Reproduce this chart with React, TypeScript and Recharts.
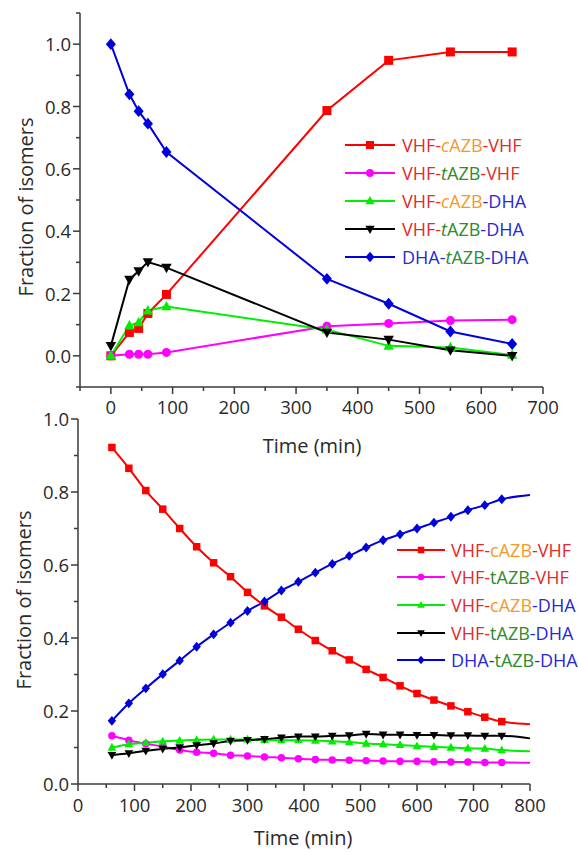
import React from 'react';
import { LineChart, Line, XAxis, YAxis, Legend, Label } from 'recharts';

// ---------- Top panel data ----------
const topTime = [0, 30, 45, 60, 90, 350, 450, 550, 650];
const topCVC = [0, 0.075, 0.088, 0.136, 0.197, 0.787, 0.948, 0.975, 0.975];
const topTVT = [0, 0.005, 0.005, 0.005, 0.011, 0.095, 0.104, 0.113, 0.116];
const topCVD = [0, 0.097, 0.107, 0.145, 0.158, 0.084, 0.032, 0.027, 0.003];
const topTVD = [0.032, 0.245, 0.272, 0.301, 0.283, 0.075, 0.052, 0.018, 0.0];
const topDTD = [1.0, 0.839, 0.785, 0.745, 0.654, 0.247, 0.167, 0.078, 0.038];
const topXTicks = [-50, 0, 50, 100, 150, 200, 250, 300, 350, 400, 450, 500, 550, 600, 650, 700];
const topYTicks = [-0.1, 0, 0.1, 0.2, 0.3, 0.4, 0.5, 0.6, 0.7, 0.8, 0.9, 1.0, 1.1];

// ---------- Bottom panel data ----------
const botTime = [60, 90, 120, 150, 180, 210, 240, 270, 300, 330, 360, 390, 420, 450, 480, 510, 540, 570, 600, 630, 660, 690, 720, 750, 800];
const botCVC = [0.922, 0.865, 0.804, 0.753, 0.7, 0.65, 0.606, 0.568, 0.525, 0.488, 0.457, 0.424, 0.393, 0.365, 0.34, 0.314, 0.292, 0.269, 0.248, 0.23, 0.214, 0.198, 0.183, 0.171, 0.164];
const botTVT = [0.132, 0.12, 0.11, 0.103, 0.093, 0.087, 0.084, 0.079, 0.077, 0.074, 0.072, 0.069, 0.067, 0.066, 0.065, 0.064, 0.063, 0.062, 0.062, 0.061, 0.06, 0.06, 0.059, 0.059, 0.058];
const botCVD = [0.1, 0.109, 0.113, 0.117, 0.119, 0.121, 0.122, 0.122, 0.122, 0.121, 0.12, 0.12, 0.119, 0.117, 0.115, 0.111, 0.109, 0.107, 0.104, 0.102, 0.1, 0.098, 0.097, 0.093, 0.09];
const botTVD = [0.079, 0.084, 0.091, 0.096, 0.1, 0.106, 0.111, 0.118, 0.12, 0.123, 0.127, 0.13, 0.13, 0.132, 0.133, 0.137, 0.135, 0.135, 0.134, 0.134, 0.133, 0.133, 0.132, 0.132, 0.125];
const botDTD = [0.173, 0.221, 0.262, 0.301, 0.338, 0.376, 0.41, 0.442, 0.474, 0.5, 0.53, 0.554, 0.579, 0.603, 0.625, 0.648, 0.668, 0.684, 0.7, 0.716, 0.732, 0.75, 0.764, 0.78, 0.792];
const botLastMeasured = 750;
const botXTicks = [0, 50, 100, 150, 200, 250, 300, 350, 400, 450, 500, 550, 600, 650, 700, 750, 800];
const botYTicks = [0, 0.1, 0.2, 0.3, 0.4, 0.5, 0.6, 0.7, 0.8, 0.9, 1.0];

const topData = topTime.map((t, i) => ({ t, cvc: topCVC[i], tvt: topTVT[i], cvd: topCVD[i], tvd: topTVD[i], dtd: topDTD[i] }));
const botData = botTime.map((t, i) => ({ t, cvc: botCVC[i], tvt: botTVT[i], cvd: botCVD[i], tvd: botTVD[i], dtd: botDTD[i] }));

const FONT = '"Open Sans", "Noto Sans", sans-serif';
const AXIS = '#3a3a3a';
const TXT = '#2a2a2a';
const TICK_FS = 18.5;
const TITLE_FS = 20;

const C_RED = '#ff0000';
const C_MAG = '#ff00ff';
const C_GRN = '#00ee00';
const C_BLK = '#000000';
const C_BLU = '#0000dd';

const T_RED = '#e32b2b';
const T_ORG = '#f39a2b';
const T_GRN = '#2e8b2e';
const T_BLU = '#2828d6';

type Shape = 'square' | 'circle' | 'up' | 'down' | 'diamond';

const drawShape = (shape: Shape, cx: number, cy: number, s: number, color: string, key?: any) => {
  switch (shape) {
    case 'square':
      return <rect key={key} x={cx - s / 2} y={cy - s / 2} width={s} height={s} fill={color} />;
    case 'circle':
      return <circle key={key} cx={cx} cy={cy} r={s / 2} fill={color} />;
    case 'up':
      return <polygon key={key} points={`${cx},${cy - s * 0.62} ${cx - s * 0.58},${cy + s * 0.42} ${cx + s * 0.58},${cy + s * 0.42}`} fill={color} />;
    case 'down':
      return <polygon key={key} points={`${cx},${cy + s * 0.62} ${cx - s * 0.58},${cy - s * 0.42} ${cx + s * 0.58},${cy - s * 0.42}`} fill={color} />;
    case 'diamond':
    default:
      return <polygon key={key} points={`${cx},${cy - s * 0.66} ${cx + s * 0.56},${cy} ${cx},${cy + s * 0.66} ${cx - s * 0.56},${cy}`} fill={color} />;
  }
};

const mkDot = (shape: Shape, color: string, size: number, maxT?: number) => (props: any) => {
  const { cx, cy, payload, index } = props;
  if (cx == null || cy == null || (maxT != null && payload && payload.t > maxT)) return <g key={`d${index}`} />;
  return <g key={`d${index}`}>{drawShape(shape, cx, cy, size, color)}</g>;
};

const mkXTick = (labelDy: number) => (props: any) => {
  const { x, y, payload } = props;
  const v = payload.value;
  const major = Math.round(v) % 100 === 0;
  const len = major ? 7 : 4;
  return (
    <g>
      <line x1={x} y1={y} x2={x} y2={y + len} stroke={AXIS} strokeWidth={1.5} />
      {major && v >= 0 ? (
        <text x={x} y={y + labelDy} textAnchor="middle" fontFamily={FONT} fontSize={TICK_FS} fill={TXT}>
          {v}
        </text>
      ) : null}
    </g>
  );
};

const YTick = (props: any) => {
  const { x, y, payload } = props;
  const v = payload.value;
  const k = Math.round(v * 10);
  const major = k % 2 === 0 && k >= 0 && k <= 10;
  const len = major ? 7 : 4;
  return (
    <g>
      <line x1={x - len} y1={y} x2={x} y2={y} stroke={AXIS} strokeWidth={1.5} />
      {major ? (
        <text x={x - 9} y={y + 7} textAnchor="end" fontFamily={FONT} fontSize={TICK_FS} fill={TXT}>
          {v.toFixed(1)}
        </text>
      ) : null}
    </g>
  );
};

type Part = [string, string, boolean?];
type LegendItem = { color: string; shape: Shape; parts: Part[] };

const topItems: LegendItem[] = [
  { color: C_RED, shape: 'square', parts: [['VHF-', T_RED], ['c', T_ORG, true], ['AZB', T_ORG], ['-VHF', T_RED]] },
  { color: C_MAG, shape: 'circle', parts: [['VHF-', T_RED], ['t', T_GRN, true], ['AZB', T_GRN], ['-VHF', T_RED]] },
  { color: C_GRN, shape: 'up', parts: [['VHF-', T_RED], ['c', T_ORG, true], ['AZB', T_ORG], ['-DHA', T_BLU]] },
  { color: C_BLK, shape: 'down', parts: [['VHF-', T_RED], ['t', T_GRN, true], ['AZB', T_GRN], ['-DHA', T_BLU]] },
  { color: C_BLU, shape: 'diamond', parts: [['DHA-', T_BLU], ['t', T_GRN, true], ['AZB', T_GRN], ['-DHA', T_BLU]] },
];

const botItems: LegendItem[] = [
  { color: C_RED, shape: 'square', parts: [['VHF-', T_RED], ['cAZB', T_ORG], ['-VHF', T_RED]] },
  { color: C_MAG, shape: 'circle', parts: [['VHF-', T_RED], ['tAZB', T_GRN], ['-VHF', T_RED]] },
  { color: C_GRN, shape: 'up', parts: [['VHF-', T_RED], ['cAZB', T_ORG], ['-DHA', T_BLU]] },
  { color: C_BLK, shape: 'down', parts: [['VHF-', T_RED], ['tAZB', T_GRN], ['-DHA', T_BLU]] },
  { color: C_BLU, shape: 'diamond', parts: [['DHA-', T_BLU], ['tAZB', T_GRN], ['-DHA', T_BLU]] },
];

const mkLegend = (items: LegendItem[], rowH: number, lineW: number, gap: number, mSize: number, fontSize: number) => () => (
  <div style={{ fontFamily: FONT, fontSize, lineHeight: 1 }}>
    {items.map((it, i) => (
      <div key={i} style={{ display: 'flex', alignItems: 'center', height: rowH }}>
        <svg width={lineW} height={14} style={{ display: 'block', flex: 'none' }}>
          <line x1={0} y1={7} x2={lineW} y2={7} stroke={it.color} strokeWidth={2} />
          {drawShape(it.shape, lineW / 2, 7, mSize, it.color)}
        </svg>
        <span style={{ marginLeft: gap, whiteSpace: 'nowrap' }}>
          {it.parts.map((p, j) => (
            <span key={j} style={{ color: p[1], fontStyle: p[2] ? 'italic' : 'normal' }}>
              {p[0]}
            </span>
          ))}
        </span>
      </div>
    ))}
  </div>
);

const AxisTitleX = (x: number, y: number) => () => (
  <text x={x} y={y} textAnchor="middle" fontFamily={FONT} fontSize={TITLE_FS} fill={TXT}>
    Time (min)
  </text>
);
const AxisTitleY = (x: number, y: number) => () => (
  <text x={x} y={y} textAnchor="middle" fontFamily={FONT} fontSize={TITLE_FS} fill={TXT} transform={`rotate(-90 ${x} ${y})`}>
    Fraction of isomers
  </text>
);

const series: { key: string; color: string; shape: Shape }[] = [
  { key: 'cvc', color: C_RED, shape: 'square' },
  { key: 'tvt', color: C_MAG, shape: 'circle' },
  { key: 'cvd', color: C_GRN, shape: 'up' },
  { key: 'tvd', color: C_BLK, shape: 'down' },
  { key: 'dtd', color: C_BLU, shape: 'diamond' },
];

export default function App() {
  return (
    <div style={{ position: 'fixed', left: 0, top: 0, width: 578, height: 852, background: '#fff', overflow: 'hidden' }}>
      <div style={{ position: 'absolute', left: 0, top: 0 }}>
        <LineChart width={578} height={460} data={topData} margin={{ top: 13, right: 35, bottom: 43, left: 20 }}>
          <XAxis
            dataKey="t"
            type="number"
            domain={[-50, 700]}
            ticks={topXTicks}
            interval={0}
            tickSize={0}
            tickMargin={0}
            tickLine={false}
            tick={mkXTick(27)}
            axisLine={{ stroke: AXIS, strokeWidth: 1.5 }}
            height={30}
          >
            <Label content={AxisTitleX(312, 453)} />
          </XAxis>
          <YAxis
            type="number"
            domain={[-0.1, 1.1]}
            ticks={topYTicks}
            interval={0}
            tickSize={0}
            tickMargin={0}
            tickLine={false}
            tick={YTick}
            axisLine={{ stroke: AXIS, strokeWidth: 1.5 }}
            width={60}
          >
            <Label content={AxisTitleY(33, 207)} />
          </YAxis>
          <Legend
            layout="horizontal"
            verticalAlign="middle"
            align="center"
            content={mkLegend(topItems, 28, 50, 7, 8, 18)}
            wrapperStyle={{ left: 345, top: 131, width: 230, height: 140 }}
          />
          {series.map((s) => (
            <Line
              key={s.key}
              type="linear"
              dataKey={s.key}
              stroke={s.color}
              strokeWidth={2}
              dot={mkDot(s.shape, s.color, 9)}
              activeDot={false}
              isAnimationActive={false}
            />
          ))}
        </LineChart>
      </div>
      <div style={{ position: 'absolute', left: 0, top: 400 }}>
        <LineChart width={578} height={452} data={botData} margin={{ top: 19, right: 48, bottom: 38, left: 18 }}>
          <XAxis
            dataKey="t"
            type="number"
            domain={[0, 800]}
            ticks={botXTicks}
            interval={0}
            tickSize={0}
            tickMargin={0}
            tickLine={false}
            tick={mkXTick(28)}
            axisLine={{ stroke: AXIS, strokeWidth: 1.5 }}
            height={30}
          >
            <Label content={AxisTitleX(303, 445)} />
          </XAxis>
          <YAxis
            type="number"
            domain={[0, 1.0]}
            ticks={botYTicks}
            interval={0}
            tickSize={0}
            tickMargin={0}
            tickLine={false}
            tick={YTick}
            axisLine={{ stroke: AXIS, strokeWidth: 1.5 }}
            width={60}
          >
            <Label content={AxisTitleY(31, 200)} />
          </YAxis>
          <Legend
            layout="horizontal"
            verticalAlign="middle"
            align="center"
            content={mkLegend(botItems, 27.6, 48, 6, 6.5, 18)}
            wrapperStyle={{ left: 397, top: 136, width: 181, height: 140 }}
          />
          {series.map((s) => (
            <Line
              key={s.key}
              type="monotone"
              dataKey={s.key}
              stroke={s.color}
              strokeWidth={2}
              dot={mkDot(s.shape, s.color, 7.5, botLastMeasured)}
              activeDot={false}
              isAnimationActive={false}
            />
          ))}
        </LineChart>
      </div>
    </div>
  );
}
